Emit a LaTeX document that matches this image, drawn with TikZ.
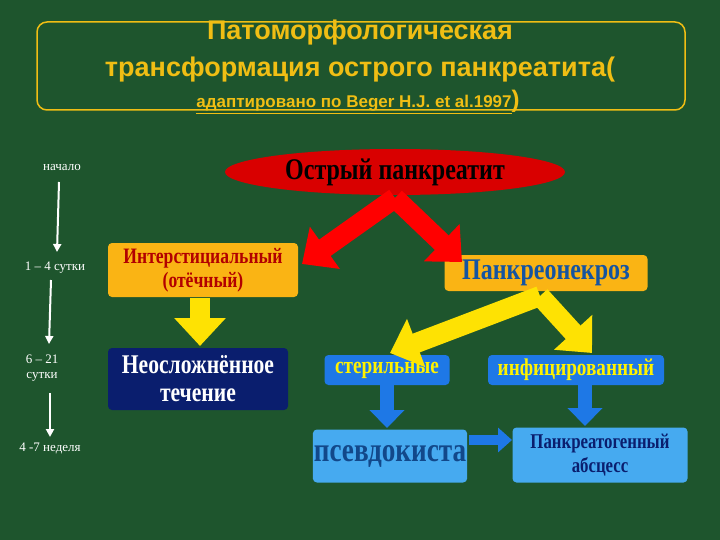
\documentclass[tikz,border=0pt]{standalone}
\usepackage{fontspec}
\setmainfont{Liberation Serif}
\newfontfamily\titlefont{Liberation Sans}
\newfontfamily\cond[FakeStretch=0.8]{Liberation Serif}
\usetikzlibrary{arrows.meta,shapes.geometric}
\definecolor{bg}{RGB}{30,85,45}
\definecolor{ttl}{RGB}{240,190,20}
\definecolor{org}{RGB}{250,180,20}
\definecolor{navy}{RGB}{10,30,110}
\definecolor{blu}{RGB}{30,120,230}
\definecolor{lblu}{RGB}{70,170,240}
\tikzset{
 box/.style={rounded corners=4pt,inner sep=1pt,align=center,font=\cond\bfseries},
 tl/.style={text=white,font=\fontsize{13}{15}\selectfont},
 tarrow/.style={white,line width=2pt,-{Triangle[length=8pt,width=8pt]}},
 bigarrow/.style={line width=20pt,-{Triangle[length=28pt,width=50pt]}}
}
\begin{document}
\begin{tikzpicture}[x=1pt,y=-1pt]
\fill[bg] (0,0) rectangle (720,540);
\useasboundingbox (0,0) rectangle (720,540);
\draw[ttl,line width=1.5pt,rounded corners=10pt] (37,22) rectangle (685,110);
\node[text=ttl,font=\titlefont\bfseries\fontsize{27}{28}\selectfont] (t1) at (360,33) {Патоморфологическая};
\node[text=ttl,font=\titlefont\bfseries\fontsize{27}{28}\selectfont] (t2) at (360,70) {трансформация острого панкреатита(};
\node[text=ttl,font=\titlefont\bfseries\fontsize{17}{18}\selectfont] (t3) at (358,102) {\underline{адаптировано по Beger H.J. et al.1997}\fontsize{24}{24}\selectfont)};
% timeline
\node[tl] (n0) at (62,168) {начало};
\node[tl] (n1) at (55,268) {1 – 4 сутки};
\node[tl,align=center] (n2) at (42,368) {6 – 21\\сутки};
\node[tl] (n3) at (50,448) {4 -7 неделя};
\draw[tarrow] (59,182) -- (57,252);
\draw[tarrow] (51,280) -- (49,344);
\draw[tarrow] (50,393) -- (50,437);
% ellipse
\node[ellipse,fill=red!85!black,minimum width=340pt,minimum height=46pt,inner sep=0pt] (ost) at (395,172) {};
\node[font=\cond\bfseries\fontsize{30}{30}\selectfont] (ostt) at (ost) {Острый панкреатит};
% boxes
\node[box,fill=org,text=red!70!black,minimum width=190pt,minimum height=54pt,font=\cond\bfseries\fontsize{22}{24}\selectfont] (int) at (203,270) {Интерстициальный\\(отёчный)};
\node[box,fill=navy,text=white,minimum width=180pt,minimum height=62pt,font=\cond\bfseries\fontsize{27}{28}\selectfont] (neo) at (198,379) {Неосложнённое\\течение};
\node[box,fill=org,text=blu!70!black,minimum width=203pt,minimum height=36pt,font=\cond\bfseries\fontsize{30}{30}\selectfont] (pn) at (546,273) {Панкреонекроз};
\node[box,fill=blu,text=yellow,minimum width=125pt,minimum height=30pt,font=\cond\bfseries\fontsize{24}{24}\selectfont] (st) at (387,370) {стерильные};
\node[box,fill=blu,text=yellow,minimum width=176pt,minimum height=30pt,font=\cond\bfseries\fontsize{24}{24}\selectfont] (inf) at (576,370) {инфицированный};
\node[box,fill=lblu,text=blu!60!black,minimum width=154pt,minimum height=53pt,font=\cond\bfseries\fontsize{34}{34}\selectfont] (ps) at (390,456) {псевдокиста};
\node[box,fill=lblu,text=navy,minimum width=175pt,minimum height=55pt,font=\cond\bfseries\fontsize{21}{24}\selectfont] (abs) at (600,455) {Панкреатогенный\\абсцесс};
% big arrows
\coordinate (rc) at (395,198);
\coordinate (rl) at (302,264);
\coordinate (rr) at (462,262);
\draw[bigarrow,red] (rc) -- (rl);
\draw[bigarrow,red] (rc) -- (rr);
\coordinate (ya) at (200,298);
\coordinate (yb) at (200,346);
\draw[bigarrow,yellow!85!orange] (ya) -- (yb);
\coordinate (yc) at (540,296);
\coordinate (yl) at (390,353);
\coordinate (yr) at (592,353);
\draw[bigarrow,yellow!85!orange] (yc) -- (yl);
\draw[bigarrow,yellow!85!orange] (yc) -- (yr);
\coordinate (b1) at (387,385);
\coordinate (b2) at (387,428);
\coordinate (b3) at (585,385);
\coordinate (b4) at (585,426);
\draw[line width=14pt,blu,-{Triangle[length=18pt,width=34pt]}] (b1) -- (b2);
\draw[line width=14pt,blu,-{Triangle[length=18pt,width=34pt]}] (b3) -- (b4);
\coordinate (b5) at (469,440);
\coordinate (b6) at (512,440);
\draw[line width=10pt,blu,-{Triangle[length=14pt,width=24pt]}] (b5) -- (b6);
\end{tikzpicture}
\end{document}
